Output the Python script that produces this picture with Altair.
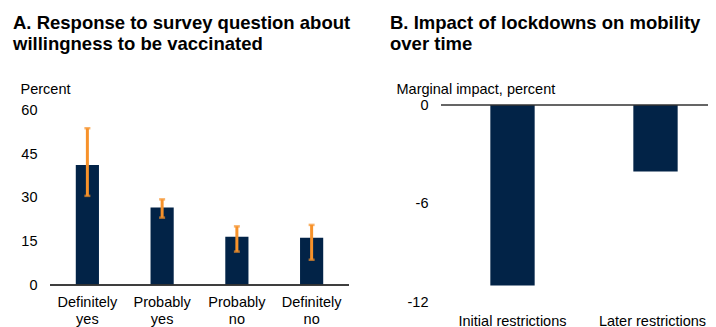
import altair as alt
import pandas as pd

# Panel A data
a_categories = ["Definitely yes", "Probably yes", "Probably no", "Definitely no"]
a_values = [41.3, 26.7, 16.6, 16.3]
a_err_low = [30.7, 23.2, 11.5, 8.7]
a_err_high = [54.0, 29.5, 20.2, 20.7]
a_ticks = [0, 15, 30, 45, 60]

# Panel B data
b_categories = ["Initial restrictions", "Later restrictions"]
b_values = [-11.0, -4.05]
b_ticks = [-12, -6, 0]

NAVY = "#022347"
ORANGE = "#F7922A"
FONT = "Liberation Sans"

df_a = pd.DataFrame({"cat": a_categories, "val": a_values, "lo": a_err_low, "hi": a_err_high})
df_b = pd.DataFrame({"cat": b_categories, "val": b_values})

xa = alt.X(
    "cat:N", sort=a_categories, title=None,
    scale=alt.Scale(paddingInner=0.69, paddingOuter=0.345),
    axis=alt.Axis(labelAngle=0, domain=False, ticks=False, tickSize=0, labelPadding=10,
                  labelFontSize=14.5, labelLineHeight=17.3, labelColor="#000",
                  labelFont=FONT, labelExpr="split(datum.label, ' ')"),
)
ya = alt.Y(
    "val:Q", scale=alt.Scale(domain=[0, 62], nice=False, zero=False),
    axis=alt.Axis(values=a_ticks, grid=False, domain=False, ticks=False, tickSize=0,
                  labelPadding=13, labelFontSize=14.5, labelColor="#000", labelFont=FONT,
                  title="Percent", titleAngle=0, titleX=-30, titleY=-16, titleAlign="left",
                  titleBaseline="middle", titleFontSize=14.5, titleFontWeight="normal",
                  titleColor="#000", titleFont=FONT),
)

bars_a = alt.Chart(df_a).mark_bar(color=NAVY).encode(x=xa, y=ya)
err_a = alt.Chart(df_a).mark_rule(color=ORANGE, strokeWidth=3).encode(
    x=alt.X("cat:N", sort=a_categories), y="lo:Q", y2="hi:Q")
cap_lo = alt.Chart(df_a).mark_tick(color=ORANGE, size=6, thickness=2.5).encode(
    x=alt.X("cat:N", sort=a_categories), y="lo:Q")
cap_hi = alt.Chart(df_a).mark_tick(color=ORANGE, size=6, thickness=2.5).encode(
    x=alt.X("cat:N", sort=a_categories), y="hi:Q")
zero_a = alt.Chart(df_a).mark_rule(color="#333", strokeWidth=1).encode(y=alt.datum(0))

chart_a = alt.layer(bars_a, zero_a, err_a, cap_lo, cap_hi).properties(
    width=299, height=180,
    title=alt.Title(["A. Response to survey question about", "willingness to be vaccinated"],
                    anchor="start", frame="group", dx=-37, fontSize=18.5, fontWeight="bold",
                    lineHeight=21.7, offset=27, color="#000", font=FONT),
)

xb = alt.X(
    "cat:N", sort=b_categories, title=None,
    scale=alt.Scale(paddingInner=0.69, paddingOuter=0.345),
    axis=alt.Axis(labelAngle=0, domain=False, ticks=False, tickSize=0, labelPadding=12,
                  labelFontSize=14.5, labelColor="#000", labelFont=FONT, orient="bottom",
                  labelOffset={"condition": {"test": "datum.value == 'Later restrictions'",
                                             "value": -3}, "value": 0}),
)
yb = alt.Y(
    "val:Q", scale=alt.Scale(domain=[-12, 0], nice=False, zero=False),
    axis=alt.Axis(values=b_ticks, grid=False, domain=False, ticks=False, tickSize=0,
                  labelPadding=13, labelFontSize=14.5, labelColor="#000", labelFont=FONT,
                  labelExpr="toString(datum.value)",
                  title="Marginal impact, percent", titleAngle=0, titleX=-45, titleY=-16,
                  titleAlign="left", titleBaseline="middle", titleFontSize=14.5,
                  titleFontWeight="normal", titleColor="#000", titleFont=FONT),
)
bars_b = alt.Chart(df_b).mark_bar(color=NAVY).encode(x=xb, y=yb)
zero_b = alt.Chart(df_b).mark_rule(color="#333", strokeWidth=1).encode(y=alt.datum(0))

chart_b = alt.layer(bars_b, zero_b).properties(
    width=286, height=197,
    title=alt.Title(["B. Impact of lockdowns on mobility", "over time"],
                    anchor="start", frame="group", dx=-51, fontSize=18.5, fontWeight="bold",
                    lineHeight=21.7, offset=27, color="#000", font=FONT),
)

chart = alt.hconcat(chart_a, chart_b, spacing=92, bounds="flush").properties(
    padding={"left": 5, "top": 5, "right": -20, "bottom": 0},
    background="white",
).configure_view(stroke="transparent", strokeWidth=0)

chart.save("out.html", embed_options={"renderer": "svg", "actions": False})
